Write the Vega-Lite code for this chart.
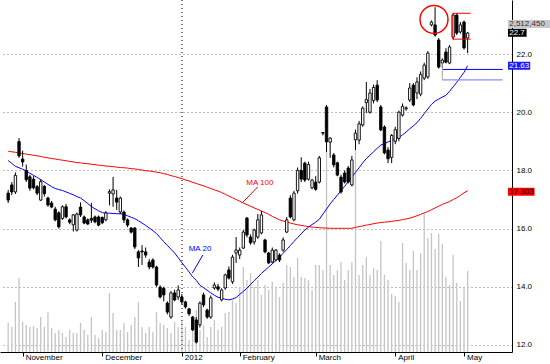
{
"$schema": "https://vega.github.io/schema/vega-lite/v6.json",
"width": 512, "height": 352,
"autosize": {"type": "none"},
"padding": {"left": 0, "top": 0, "right": 38, "bottom": 12},
"background": "white",
"config": {"view": {"stroke": null}, "font": "Liberation Sans",
  "axis": {"labelFont": "Liberation Sans", "labelFontSize": 8, "labelColor": "#000000", "domainColor": "#000000", "tickColor": "#000000", "domainWidth": 1}},
"data": {"values": [
{"i":-4,"o":17.22,"h":17.33,"l":16.88,"c":16.98,"v":222000,"ma20":18.34,"ma100":18.66},
{"i":-3,"o":17.50,"h":17.60,"l":17.15,"c":17.26,"v":192000,"ma20":18.24,"ma100":18.64},
{"i":-2,"o":17.26,"h":17.93,"l":17.19,"c":17.83,"v":383000,"ma20":18.14,"ma100":18.62},
{"i":-1,"o":18.99,"h":19.11,"l":18.43,"c":18.50,"v":567000,"ma20":18.09,"ma100":18.60},
{"i":0,"o":18.39,"h":18.68,"l":18.13,"c":18.29,"v":230000,"ma20":18.04,"ma100":18.58},
{"i":1,"o":18.00,"h":18.20,"l":17.60,"c":17.68,"v":207000,"ma20":17.98,"ma100":18.56},
{"i":2,"o":17.78,"h":17.85,"l":17.30,"c":17.39,"v":192000,"ma20":17.90,"ma100":18.54},
{"i":3,"o":17.70,"h":17.80,"l":17.35,"c":17.40,"v":199000,"ma20":17.83,"ma100":18.52},
{"i":4,"o":17.44,"h":17.50,"l":17.15,"c":17.22,"v":184000,"ma20":17.76,"ma100":18.50},
{"i":5,"o":16.98,"h":17.70,"l":16.95,"c":17.61,"v":268000,"ma20":17.68,"ma100":18.48},
{"i":6,"o":17.45,"h":17.50,"l":17.10,"c":17.20,"v":192000,"ma20":17.60,"ma100":18.45},
{"i":7,"o":17.05,"h":17.10,"l":16.75,"c":16.81,"v":306000,"ma20":17.52,"ma100":18.43},
{"i":8,"o":16.88,"h":16.95,"l":16.70,"c":16.74,"v":184000,"ma20":17.44,"ma100":18.41},
{"i":9,"o":16.67,"h":16.75,"l":16.25,"c":16.30,"v":146000,"ma20":17.38,"ma100":18.39},
{"i":10,"o":16.54,"h":16.60,"l":16.00,"c":16.06,"v":169000,"ma20":17.34,"ma100":18.37},
{"i":11,"o":16.35,"h":16.80,"l":16.30,"c":16.75,"v":146000,"ma20":17.31,"ma100":18.35},
{"i":12,"o":16.75,"h":16.85,"l":16.35,"c":16.40,"v":115000,"ma20":17.26,"ma100":18.33},
{"i":13,"o":16.30,"h":16.35,"l":16.15,"c":16.22,"v":169000,"ma20":17.21,"ma100":18.31},
{"i":14,"o":16.13,"h":16.50,"l":15.90,"c":16.47,"v":146000,"ma20":17.16,"ma100":18.29},
{"i":15,"o":15.95,"h":16.55,"l":15.90,"c":16.50,"v":146000,"ma20":17.10,"ma100":18.27},
{"i":16,"o":16.74,"h":16.90,"l":16.40,"c":16.47,"v":222000,"ma20":17.05,"ma100":18.26},
{"i":17,"o":16.40,"h":16.45,"l":16.15,"c":16.19,"v":169000,"ma20":16.96,"ma100":18.24},
{"i":18,"o":16.30,"h":16.35,"l":16.12,"c":16.16,"v":130000,"ma20":16.86,"ma100":18.23},
{"i":19,"o":16.35,"h":16.88,"l":16.19,"c":16.29,"v":268000,"ma20":16.76,"ma100":18.21},
{"i":20,"o":16.40,"h":16.45,"l":16.18,"c":16.23,"v":130000,"ma20":16.68,"ma100":18.20},
{"i":21,"o":16.40,"h":16.45,"l":16.08,"c":16.12,"v":107000,"ma20":16.61,"ma100":18.18},
{"i":22,"o":16.38,"h":16.42,"l":16.15,"c":16.20,"v":169000,"ma20":16.55,"ma100":18.17},
{"i":23,"o":16.30,"h":16.60,"l":16.25,"c":16.54,"v":153000,"ma20":16.53,"ma100":18.15},
{"i":24,"o":17.22,"h":17.35,"l":16.80,"c":17.27,"v":452000,"ma20":16.53,"ma100":18.14},
{"i":25,"o":17.19,"h":17.78,"l":16.75,"c":17.33,"v":299000,"ma20":16.52,"ma100":18.13},
{"i":26,"o":17.05,"h":17.33,"l":16.64,"c":16.91,"v":169000,"ma20":16.51,"ma100":18.11},
{"i":27,"o":16.57,"h":17.10,"l":16.50,"c":17.05,"v":169000,"ma20":16.51,"ma100":18.10},
{"i":28,"o":16.57,"h":16.62,"l":16.19,"c":16.30,"v":222000,"ma20":16.49,"ma100":18.09},
{"i":29,"o":16.30,"h":16.35,"l":16.05,"c":16.12,"v":153000,"ma20":16.44,"ma100":18.08},
{"i":30,"o":16.02,"h":16.05,"l":15.83,"c":15.88,"v":207000,"ma20":16.39,"ma100":18.06},
{"i":31,"o":16.02,"h":16.05,"l":15.30,"c":15.37,"v":268000,"ma20":16.34,"ma100":18.05},
{"i":32,"o":15.20,"h":15.26,"l":14.68,"c":14.99,"v":383000,"ma20":16.27,"ma100":18.03},
{"i":33,"o":15.23,"h":15.43,"l":14.75,"c":15.20,"v":192000,"ma20":16.19,"ma100":18.01},
{"i":34,"o":15.20,"h":15.35,"l":15.00,"c":15.09,"v":146000,"ma20":16.11,"ma100":17.99},
{"i":35,"o":14.85,"h":14.95,"l":14.60,"c":14.68,"v":192000,"ma20":16.02,"ma100":17.98},
{"i":36,"o":14.92,"h":14.98,"l":14.62,"c":14.68,"v":153000,"ma20":15.93,"ma100":17.96},
{"i":37,"o":14.68,"h":14.72,"l":14.00,"c":14.06,"v":306000,"ma20":15.83,"ma100":17.94},
{"i":38,"o":13.99,"h":14.05,"l":13.60,"c":13.65,"v":222000,"ma20":15.69,"ma100":17.92},
{"i":39,"o":13.95,"h":14.00,"l":13.50,"c":13.72,"v":207000,"ma20":15.55,"ma100":17.89},
{"i":40,"o":13.44,"h":13.50,"l":13.05,"c":13.13,"v":184000,"ma20":15.42,"ma100":17.86},
{"i":41,"o":12.96,"h":13.85,"l":12.90,"c":13.79,"v":146000,"ma20":15.29,"ma100":17.82},
{"i":42,"o":13.79,"h":13.90,"l":13.50,"c":13.55,"v":230000,"ma20":15.16,"ma100":17.79},
{"i":43,"o":13.65,"h":14.05,"l":13.55,"c":13.89,"v":192000,"ma20":15.00,"ma100":17.75},
{"i":44,"o":13.65,"h":13.75,"l":13.40,"c":13.48,"v":245000,"ma20":14.83,"ma100":17.72},
{"i":45,"o":13.48,"h":13.52,"l":13.25,"c":13.31,"v":192000,"ma20":14.67,"ma100":17.67},
{"i":46,"o":13.24,"h":13.28,"l":13.00,"c":13.07,"v":92000,"ma20":14.51,"ma100":17.64},
{"i":47,"o":12.96,"h":13.00,"l":12.48,"c":12.52,"v":169000,"ma20":14.34,"ma100":17.59},
{"i":48,"o":12.86,"h":12.96,"l":12.05,"c":12.10,"v":322000,"ma20":14.22,"ma100":17.55},
{"i":49,"o":12.69,"h":13.50,"l":12.60,"c":13.44,"v":169000,"ma20":14.05,"ma100":17.51},
{"i":50,"o":13.72,"h":13.80,"l":13.30,"c":13.38,"v":207000,"ma20":13.97,"ma100":17.47},
{"i":51,"o":13.20,"h":13.25,"l":12.90,"c":12.96,"v":115000,"ma20":13.88,"ma100":17.42},
{"i":52,"o":12.96,"h":13.70,"l":12.90,"c":13.62,"v":192000,"ma20":13.79,"ma100":17.38},
{"i":53,"o":13.96,"h":14.15,"l":13.90,"c":14.06,"v":245000,"ma20":13.71,"ma100":17.33},
{"i":54,"o":14.00,"h":14.10,"l":13.85,"c":13.92,"v":169000,"ma20":13.64,"ma100":17.29},
{"i":55,"o":13.55,"h":13.95,"l":13.50,"c":13.89,"v":192000,"ma20":13.61,"ma100":17.24},
{"i":56,"o":13.96,"h":14.45,"l":13.90,"c":14.41,"v":299000,"ma20":13.57,"ma100":17.18},
{"i":57,"o":14.58,"h":14.70,"l":14.25,"c":14.30,"v":306000,"ma20":13.55,"ma100":17.12},
{"i":58,"o":14.17,"h":15.10,"l":14.10,"c":15.02,"v":398000,"ma20":13.58,"ma100":17.06},
{"i":59,"o":15.16,"h":15.71,"l":14.82,"c":15.26,"v":375000,"ma20":13.63,"ma100":17.00},
{"i":60,"o":15.09,"h":15.35,"l":14.95,"c":15.26,"v":498000,"ma20":13.74,"ma100":16.94},
{"i":61,"o":15.33,"h":15.95,"l":15.30,"c":15.88,"v":651000,"ma20":13.84,"ma100":16.88},
{"i":62,"o":16.36,"h":16.40,"l":15.70,"c":15.78,"v":552000,"ma20":13.95,"ma100":16.82},
{"i":63,"o":15.71,"h":15.80,"l":15.45,"c":15.51,"v":605000,"ma20":14.08,"ma100":16.77},
{"i":64,"o":15.54,"h":16.00,"l":15.45,"c":15.95,"v":498000,"ma20":14.21,"ma100":16.71},
{"i":65,"o":15.71,"h":16.50,"l":15.65,"c":16.30,"v":552000,"ma20":14.33,"ma100":16.66},
{"i":66,"o":15.85,"h":16.60,"l":15.80,"c":16.47,"v":437000,"ma20":14.46,"ma100":16.60},
{"i":67,"o":15.61,"h":15.65,"l":15.15,"c":15.20,"v":513000,"ma20":14.57,"ma100":16.55},
{"i":68,"o":15.16,"h":15.20,"l":14.78,"c":14.82,"v":475000,"ma20":14.68,"ma100":16.49},
{"i":69,"o":14.85,"h":15.35,"l":14.80,"c":15.26,"v":536000,"ma20":14.79,"ma100":16.42},
{"i":70,"o":14.92,"h":15.30,"l":14.88,"c":15.26,"v":498000,"ma20":14.90,"ma100":16.36},
{"i":71,"o":15.09,"h":15.15,"l":14.85,"c":14.92,"v":421000,"ma20":15.02,"ma100":16.30},
{"i":72,"o":15.26,"h":15.70,"l":15.20,"c":15.61,"v":529000,"ma20":15.15,"ma100":16.26},
{"i":73,"o":15.88,"h":16.40,"l":15.85,"c":16.30,"v":666000,"ma20":15.28,"ma100":16.23},
{"i":74,"o":17.05,"h":17.15,"l":16.35,"c":16.40,"v":651000,"ma20":15.42,"ma100":16.19},
{"i":75,"o":16.30,"h":17.30,"l":16.25,"c":17.22,"v":575000,"ma20":15.56,"ma100":16.16},
{"i":76,"o":17.30,"h":18.10,"l":17.20,"c":18.00,"v":720000,"ma20":15.69,"ma100":16.13},
{"i":77,"o":18.00,"h":18.45,"l":17.60,"c":17.70,"v":575000,"ma20":15.82,"ma100":16.11},
{"i":78,"o":18.25,"h":18.30,"l":17.60,"c":17.67,"v":567000,"ma20":15.95,"ma100":16.09},
{"i":79,"o":17.70,"h":18.30,"l":17.65,"c":18.20,"v":552000,"ma20":16.05,"ma100":16.07},
{"i":80,"o":17.40,"h":17.70,"l":17.35,"c":17.67,"v":475000,"ma20":16.14,"ma100":16.05},
{"i":81,"o":17.60,"h":17.80,"l":17.30,"c":17.35,"v":666000,"ma20":16.22,"ma100":16.04},
{"i":82,"o":17.60,"h":18.50,"l":17.55,"c":18.43,"v":666000,"ma20":16.32,"ma100":16.03},
{"i":83,"o":19.30,"h":19.32,"l":19.20,"c":19.28,"v":628000,"ma20":16.50,"ma100":16.02},
{"i":84,"o":20.18,"h":20.25,"l":18.63,"c":18.98,"v":1532000,"ma20":16.67,"ma100":16.02},
{"i":85,"o":18.97,"h":19.14,"l":18.43,"c":19.11,"v":666000,"ma20":16.85,"ma100":16.01},
{"i":86,"o":18.53,"h":18.60,"l":18.10,"c":18.19,"v":590000,"ma20":17.00,"ma100":16.01},
{"i":87,"o":18.26,"h":18.30,"l":17.80,"c":17.84,"v":628000,"ma20":17.15,"ma100":16.01},
{"i":88,"o":17.77,"h":17.85,"l":17.20,"c":17.26,"v":689000,"ma20":17.30,"ma100":16.01},
{"i":89,"o":17.91,"h":18.00,"l":17.55,"c":17.60,"v":552000,"ma20":17.45,"ma100":16.01},
{"i":90,"o":18.08,"h":18.15,"l":17.55,"c":17.60,"v":628000,"ma20":17.62,"ma100":16.01},
{"i":91,"o":17.50,"h":18.50,"l":17.45,"c":18.36,"v":689000,"ma20":17.77,"ma100":16.01},
{"i":92,"o":19.05,"h":19.40,"l":18.70,"c":19.28,"v":1547000,"ma20":17.93,"ma100":16.04},
{"i":93,"o":19.04,"h":19.70,"l":18.90,"c":19.60,"v":590000,"ma20":18.09,"ma100":16.07},
{"i":94,"o":19.56,"h":20.20,"l":19.50,"c":20.14,"v":666000,"ma20":18.26,"ma100":16.09},
{"i":95,"o":20.33,"h":21.04,"l":19.97,"c":20.43,"v":728000,"ma20":18.41,"ma100":16.12},
{"i":96,"o":20.00,"h":20.80,"l":19.95,"c":20.66,"v":590000,"ma20":18.52,"ma100":16.14},
{"i":97,"o":20.40,"h":20.95,"l":20.30,"c":20.85,"v":643000,"ma20":18.64,"ma100":16.17},
{"i":98,"o":20.93,"h":21.10,"l":20.35,"c":20.42,"v":628000,"ma20":18.76,"ma100":16.19},
{"i":99,"o":20.18,"h":20.25,"l":19.35,"c":19.39,"v":850000,"ma20":18.87,"ma100":16.21},
{"i":100,"o":19.49,"h":19.55,"l":18.55,"c":18.60,"v":590000,"ma20":18.92,"ma100":16.22},
{"i":101,"o":18.70,"h":18.80,"l":18.25,"c":18.40,"v":552000,"ma20":18.98,"ma100":16.23},
{"i":102,"o":18.45,"h":19.25,"l":18.25,"c":19.20,"v":444000,"ma20":19.03,"ma100":16.25},
{"i":103,"o":19.00,"h":19.50,"l":18.90,"c":19.40,"v":429000,"ma20":19.08,"ma100":16.27},
{"i":104,"o":19.10,"h":20.05,"l":19.00,"c":20.00,"v":383000,"ma20":19.13,"ma100":16.28},
{"i":105,"o":19.90,"h":20.30,"l":19.85,"c":20.20,"v":835000,"ma20":19.22,"ma100":16.31},
{"i":106,"o":20.12,"h":20.20,"l":20.05,"c":20.15,"v":682000,"ma20":19.32,"ma100":16.33},
{"i":107,"o":20.42,"h":21.00,"l":20.35,"c":20.83,"v":628000,"ma20":19.43,"ma100":16.36},
{"i":108,"o":20.93,"h":21.00,"l":20.20,"c":20.25,"v":774000,"ma20":19.53,"ma100":16.40},
{"i":109,"o":20.66,"h":21.20,"l":20.45,"c":21.04,"v":628000,"ma20":19.64,"ma100":16.44},
{"i":110,"o":20.62,"h":21.40,"l":20.55,"c":21.30,"v":758000,"ma20":19.79,"ma100":16.49},
{"i":111,"o":21.17,"h":21.70,"l":21.10,"c":21.62,"v":1065000,"ma20":19.95,"ma100":16.54},
{"i":112,"o":21.21,"h":22.10,"l":21.15,"c":22.03,"v":873000,"ma20":20.11,"ma100":16.59},
{"i":113,"o":23.00,"h":23.15,"l":22.95,"c":23.10,"v":912000,"ma20":20.27,"ma100":16.65},
{"i":114,"o":23.00,"h":23.61,"l":22.60,"c":22.65,"v":789000,"ma20":20.38,"ma100":16.71},
{"i":115,"o":22.48,"h":22.55,"l":21.50,"c":21.55,"v":904000,"ma20":20.45,"ma100":16.77},
{"i":116,"o":21.69,"h":21.85,"l":21.52,"c":21.79,"v":827000,"ma20":20.52,"ma100":16.83},
{"i":117,"o":22.07,"h":22.20,"l":21.68,"c":21.72,"v":575000,"ma20":20.58,"ma100":16.88},
{"i":118,"o":21.69,"h":22.31,"l":21.65,"c":22.24,"v":513000,"ma20":20.72,"ma100":16.93},
{"i":119,"o":22.58,"h":23.40,"l":22.50,"c":23.34,"v":743000,"ma20":20.87,"ma100":17.00},
{"i":120,"o":23.34,"h":23.40,"l":22.65,"c":22.72,"v":529000,"ma20":21.03,"ma100":17.06},
{"i":121,"o":22.76,"h":23.10,"l":22.70,"c":23.00,"v":391000,"ma20":21.20,"ma100":17.14},
{"i":122,"o":23.10,"h":23.15,"l":22.15,"c":22.21,"v":490000,"ma20":21.37,"ma100":17.23},
{"i":123,"o":22.55,"h":22.76,"l":22.03,"c":22.72,"v":620000,"ma20":21.60,"ma100":17.30}
]},
"encoding": {"x": {"field": "i", "type": "quantitative",
  "scale": {"domain": [-4.878, 133.88], "nice": false, "zero": false},
  "axis": {"title": null, "orient": "bottom", "values": [0, 22, 44, 60, 81, 103, 122],
    "labelExpr": "datum.value == 0 ? 'November' : datum.value == 22 ? 'December' : datum.value == 44 ? '2012' : datum.value == 60 ? 'February' : datum.value == 81 ? 'March' : datum.value == 103 ? 'April' : 'May'",
    "grid": false, "tickSize": 4, "labelAlign": "left", "labelBaseline": "top", "labelOffset": 2.5, "labelPadding": -3,
    "labelBound": false, "labelOverlap": false, "labelFlush": false}}},
"layer": [
  {"mark": {"type": "rule", "color": "#c4c4c4", "strokeWidth": 1.3},
   "encoding": {"y": {"field": "v", "type": "quantitative", "scale": {"domain": [0, 2696000], "nice": false, "zero": true}, "axis": null},
     "y2": {"datum": 0}}},
  {"layer": [
    {"mark": {"type": "rule", "strokeDash": [1, 3], "color": "#7a7a7a"},
     "encoding": {"x": {"datum": 44}}},
    {"mark": {"type": "line", "color": "#ff0000", "strokeWidth": 1},
     "encoding": {"y": {"field": "ma100", "type": "quantitative", "scale": {"domain": [11.759, 23.856], "nice": false, "zero": false},
       "axis": {"orient": "right", "title": null, "values": [12, 14, 16, 18, 20, 22], "format": ".1f", "grid": true, "gridDash": [1, 3], "gridColor": "#7a7a7a", "ticks": false, "labelPadding": 4, "domain": true}}}},
    {"mark": {"type": "line", "color": "#0000ff", "strokeWidth": 1},
     "encoding": {"y": {"field": "ma20", "type": "quantitative", "scale": {"domain": [11.759, 23.856], "nice": false, "zero": false},
       "axis": {"orient": "right", "title": null, "values": [12, 14, 16, 18, 20, 22], "format": ".1f", "grid": true, "gridDash": [1, 3], "gridColor": "#7a7a7a", "ticks": false, "labelPadding": 4, "domain": true}}}},
    {"mark": {"type": "rule", "color": "#000000", "strokeWidth": 1},
     "encoding": {"y": {"field": "l", "type": "quantitative", "scale": {"domain": [11.759, 23.856], "nice": false, "zero": false},
       "axis": {"orient": "right", "title": null, "values": [12, 14, 16, 18, 20, 22], "format": ".1f", "grid": true, "gridDash": [1, 3], "gridColor": "#7a7a7a", "ticks": false, "labelPadding": 4, "domain": true}},
       "y2": {"field": "h"}}},
    {"mark": {"type": "bar", "size": 2.4, "stroke": "#000000", "strokeWidth": 0.9},
     "encoding": {"y": {"field": "o", "type": "quantitative", "scale": {"domain": [11.759, 23.856], "nice": false, "zero": false},
       "axis": {"orient": "right", "title": null, "values": [12, 14, 16, 18, 20, 22], "format": ".1f", "grid": true, "gridDash": [1, 3], "gridColor": "#7a7a7a", "ticks": false, "labelPadding": 4, "domain": true}},
       "y2": {"field": "c"},
       "fill": {"condition": {"test": "datum.c >= datum.o", "value": "#ffffff"}, "value": "#000000"}}},
    {"data": {"values": [
       {"i": 64.96, "p": 17.43, "i2": 60.6, "p2": 16.87},
       {"i": 118.9, "p": 23.40, "i2": 123.85, "p2": 23.40},
       {"i": 118.9, "p": 22.51, "i2": 123.85, "p2": 22.51},
       {"i": 118.9, "p": 23.40, "i2": 118.9, "p2": 22.51}]},
     "mark": {"type": "rule", "color": "#ff0000", "strokeWidth": 1},
     "encoding": {"x2": {"field": "i2"}, "y": {"field": "p", "type": "quantitative"}, "y2": {"field": "p2"}}},
    {"data": {"values": [
       {"i": 49.8, "p": 15.09, "i2": 46.9, "p2": 14.47},
       {"i": 116, "p": 21.47, "i2": 132.7, "p2": 21.47}]},
     "mark": {"type": "rule", "color": "#0000ff", "strokeWidth": 1},
     "encoding": {"x2": {"field": "i2"}, "y": {"field": "p", "type": "quantitative"}, "y2": {"field": "p2"}}},
    {"data": {"values": [{"i": 116, "p": 21.11, "i2": 132.7, "p2": 21.11}]},
     "mark": {"type": "rule", "color": "#8c8cff", "strokeWidth": 1.2},
     "encoding": {"x2": {"field": "i2"}, "y": {"field": "p", "type": "quantitative"}, "y2": {"field": "p2"}}},
    {"data": {"values": [{"i": 116, "p": 21.69, "i2": 116, "p2": 21.11}]},
     "mark": {"type": "rule", "color": "#a0a0a0", "strokeWidth": 1},
     "encoding": {"x2": {"field": "i2"}, "y": {"field": "p", "type": "quantitative"}, "y2": {"field": "p2"}}},
    {"data": {"values": [{"i": 61.8, "p": 17.57, "t": "MA 100"}]},
     "mark": {"type": "text", "color": "#ff0000", "fontSize": 8, "align": "left", "baseline": "middle"},
     "encoding": {"y": {"field": "p", "type": "quantitative"}, "text": {"field": "t"}}},
    {"data": {"values": [{"i": 45.9, "p": 15.31, "t": "MA 20"}]},
     "mark": {"type": "text", "color": "#0000ff", "fontSize": 8, "align": "left", "baseline": "middle"},
     "encoding": {"y": {"field": "p", "type": "quantitative"}, "text": {"field": "t"}}},
    {"data": {"values": [{"i": 113.7, "p": 23.19}]},
     "mark": {"type": "point", "shape": "circle", "filled": false, "size": 784, "stroke": "#ff0000", "strokeWidth": 1.5, "opacity": 1},
     "encoding": {"y": {"field": "p", "type": "quantitative"}}},
    {"data": {"values": [{"t": "2,512,450", "p": 23.03, "i": 134.5, "i1": 134.15, "i2": 146}]},
     "layer": [
       {"mark": {"type": "rect", "color": "#c8c8c8", "yOffset": -4, "y2Offset": 4, "clip": false},
        "encoding": {"x": {"field": "i1", "type": "quantitative"}, "x2": {"field": "i2"}, "y": {"field": "p", "type": "quantitative"}, "y2": {"field": "p"}}},
       {"mark": {"type": "text", "color": "#333333", "fontSize": 8, "align": "left", "baseline": "middle", "clip": false},
        "encoding": {"y": {"field": "p", "type": "quantitative"}, "text": {"field": "t"}}}]},
    {"data": {"values": [{"t": "22.7", "p": 22.73, "i": 134.5, "i1": 134.15, "i2": 139.3}]},
     "layer": [
       {"mark": {"type": "rect", "color": "#000000", "yOffset": -4, "y2Offset": 4, "clip": false},
        "encoding": {"x": {"field": "i1", "type": "quantitative"}, "x2": {"field": "i2"}, "y": {"field": "p", "type": "quantitative"}, "y2": {"field": "p"}}},
       {"mark": {"type": "text", "color": "#ffffff", "fontSize": 8, "align": "left", "baseline": "middle", "clip": false},
        "encoding": {"y": {"field": "p", "type": "quantitative"}, "text": {"field": "t"}}}]},
    {"data": {"values": [{"t": "21.63", "p": 21.6, "i": 134.5, "i1": 134.15, "i2": 140.3}]},
     "layer": [
       {"mark": {"type": "rect", "color": "#1a1aff", "yOffset": -4, "y2Offset": 4, "clip": false},
        "encoding": {"x": {"field": "i1", "type": "quantitative"}, "x2": {"field": "i2"}, "y": {"field": "p", "type": "quantitative"}, "y2": {"field": "p"}}},
       {"mark": {"type": "text", "color": "#ffffff", "fontSize": 8, "align": "left", "baseline": "middle", "clip": false},
        "encoding": {"y": {"field": "p", "type": "quantitative"}, "text": {"field": "t"}}}]},
    {"data": {"values": [{"t": "17.303", "p": 17.27, "i": 134.5, "i1": 134.15, "i2": 141.5}]},
     "layer": [
       {"mark": {"type": "rect", "color": "#ff0000", "yOffset": -4, "y2Offset": 4, "clip": false},
        "encoding": {"x": {"field": "i1", "type": "quantitative"}, "x2": {"field": "i2"}, "y": {"field": "p", "type": "quantitative"}, "y2": {"field": "p"}}},
       {"mark": {"type": "text", "color": "#000000", "fontSize": 8, "align": "left", "baseline": "middle", "clip": false},
        "encoding": {"y": {"field": "p", "type": "quantitative"}, "text": {"field": "t"}}}]}
  ]}
],
"resolve": {"scale": {"y": "independent"}}
}
